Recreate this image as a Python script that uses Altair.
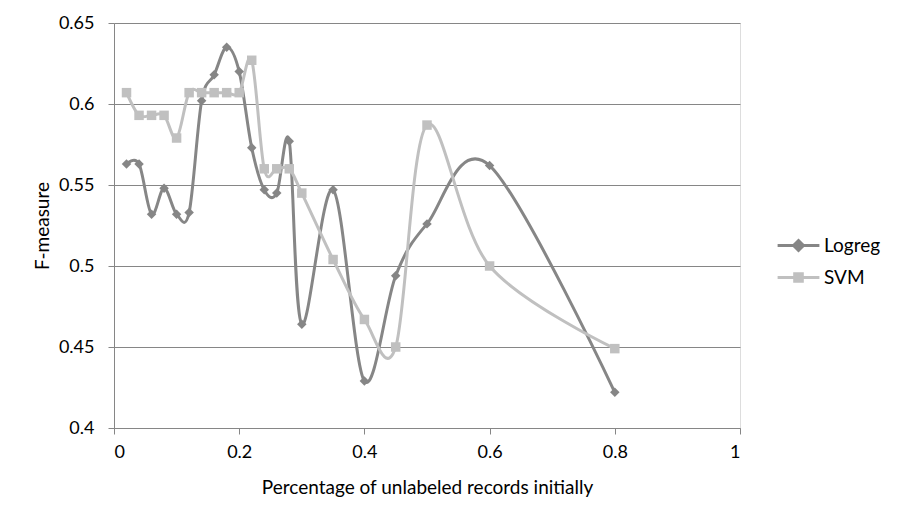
import altair as alt
import pandas as pd

x_vals = [0.02, 0.04, 0.06, 0.08, 0.1, 0.12, 0.14, 0.16, 0.18, 0.2, 0.22, 0.24, 0.26, 0.28, 0.3, 0.35, 0.4, 0.45, 0.5, 0.6, 0.8]
logreg = [0.563, 0.563, 0.532, 0.548, 0.532, 0.533, 0.602, 0.618, 0.635, 0.620, 0.573, 0.547, 0.545, 0.577, 0.464, 0.547, 0.429, 0.494, 0.526, 0.562, 0.422]
svm = [0.607, 0.593, 0.593, 0.593, 0.579, 0.607, 0.607, 0.607, 0.607, 0.607, 0.627, 0.560, 0.560, 0.560, 0.545, 0.504, 0.467, 0.450, 0.587, 0.500, 0.449]
series = ["Logreg", "SVM"]
colors = ["#868686", "#c0c0c0"]
shapes = ["diamond", "square"]

rows = []
for name, vals in zip(series, [logreg, svm]):
    for xv, yv in zip(x_vals, vals):
        rows.append({"x": xv, "y": yv, "series": name})
df = pd.DataFrame(rows)

FONT = "Lato"

# legend symbols: a short line with the series marker in the middle
DIAMOND_SYM = "M-1.1,0L1.1,0M0,-0.26L0.26,0L0,0.26L-0.26,0Z"
SQUARE_SYM = "M-1.1,0L1.1,0M-0.2,-0.2L0.2,-0.2L0.2,0.2L-0.2,0.2Z"

xenc = alt.X("x:Q", scale=alt.Scale(domain=[0, 1], nice=False),
             axis=alt.Axis(values=[0, 0.2, 0.4, 0.6, 0.8, 1], format=".1~f",
                           title="Percentage of unlabeled records initially",
                           grid=False, domainColor="#868686", tickColor="#868686", tickSize=6,
                           labelFontSize=18, titleFontSize=19, labelPadding=9, titlePadding=17,
                           labelColor="#000000", titleColor="#000000", titleFontWeight="normal",
                           labelFont=FONT, titleFont=FONT))
yenc = alt.Y("y:Q", scale=alt.Scale(domain=[0.4, 0.65], nice=False, zero=False),
             axis=alt.Axis(values=[0.4, 0.45, 0.5, 0.55, 0.6, 0.65], format=".2~f", title="F-measure",
                           grid=True, gridColor="#868686", gridWidth=1,
                           domainColor="#868686", tickColor="#868686", tickSize=6,
                           labelFontSize=18, titleFontSize=19, labelPadding=14, titlePadding=6,
                           labelColor="#000000", titleColor="#000000", titleFontWeight="normal",
                           labelFont=FONT, titleFont=FONT))

legend = alt.Legend(title=None, orient="none", legendX=664, legendY=202,
                    labelFontSize=19, labelFont=FONT, labelColor="#000000",
                    symbolSize=1444, rowPadding=0, labelOffset=5, symbolStrokeWidth=3,
                    symbolOpacity=1)
color = alt.Color("series:N", scale=alt.Scale(domain=series, range=colors), legend=None)
shape = alt.Shape("series:N", scale=alt.Scale(domain=series, range=shapes), legend=None)

lines = alt.Chart(df).mark_line(interpolate="cardinal", strokeWidth=3).encode(
    x=xenc, y=yenc, color=color, detail="series:N")
points = alt.Chart(df).mark_point(filled=True, size=90, opacity=1).encode(
    x=xenc, y=yenc, color=color, shape=shape)
legend_layer = alt.Chart(df).mark_point(filled=True, size=1, opacity=0).encode(
    x=xenc, y=yenc,
    fill=alt.Fill("series:N", scale=alt.Scale(domain=series, range=colors), legend=legend),
    stroke=alt.Stroke("series:N", scale=alt.Scale(domain=series, range=colors), legend=legend),
    shape=alt.Shape("series:N", scale=alt.Scale(domain=series, range=[DIAMOND_SYM, SQUARE_SYM]),
                    legend=legend))

chart = alt.layer(lines, points, legend_layer).resolve_scale(
    shape="independent", fill="independent", stroke="independent").properties(
    width=626, height=405,
    autosize=alt.AutoSizeParams(type="none"),
    padding={"left": 106, "top": 15, "right": 150, "bottom": 85},
).configure_view(stroke=None).configure(background="white")

chart.save("out.html", embed_options={"renderer": "svg", "actions": False})
